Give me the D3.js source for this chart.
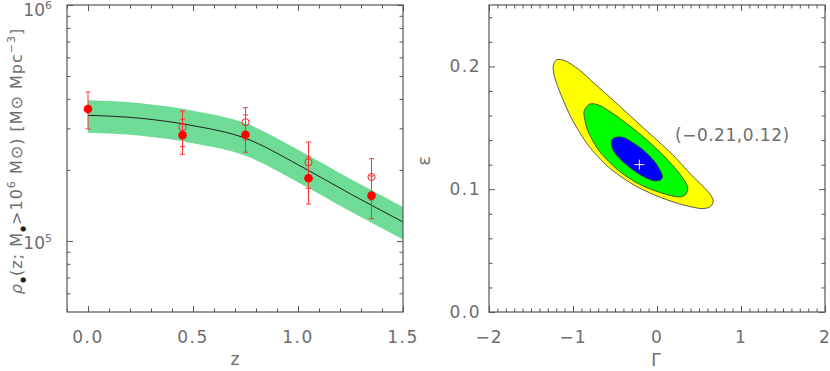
<!DOCTYPE html>
<html>
<head>
<meta charset="utf-8">
<script src="https://cdn.jsdelivr.net/npm/d3@7"></script>
<style>
  body { margin: 0; background: #fff; }
  text { font-family: "DejaVu Sans", sans-serif; fill: #6e6e6e; }
</style>
</head>
<body>
<svg id="chart" width="830" height="371"></svg>
<script>
// ---- left panel: mass density vs redshift ----
const modelZ = [0, 0.25, 0.5, 0.75, 1.0, 1.25, 1.5];
const modelRho = [340900, 331100, 308100, 272400, 210500, 158200, 120400];
const bandUpper = [394400, 383100, 356500, 315200, 243500, 183000, 139300];
const bandLower = [287400, 279200, 259800, 229700, 177500, 133400, 101500];

const filledZ = [0, 0.45, 0.75, 1.05, 1.35];
const filledRho = [362600, 280500, 282100, 184400, 155600];
const filledHi = [427900, 327900, 342000, 227000, 188600];
const filledLo = [298300, 233100, 237700, 143500, 124300];

const openZ = [0.45, 0.75, 1.05, 1.35];
const openRho = [303300, 318500, 215500, 186700];
const openHi = [355600, 367200, 262700, 223200];
const openLo = [250900, 267900, 167200, 149200];

const zTicks = [0, 0.5, 1.0, 1.5];
const rhoTicks = [1e5, 1e6];

// ---- right panel: confidence contours in (Gamma, epsilon) ----
const contourOuter = [[-1.235, 0.2006], [-1.194, 0.2054], [-1.095, 0.2046], [-0.937, 0.1978], [-0.738, 0.1856],
  [-0.539, 0.1735], [-0.301, 0.1586], [-0.063, 0.1438], [0.175, 0.1289], [0.413, 0.1114], [0.592, 0.0992],
  [0.670, 0.0911], [0.631, 0.0856], [0.512, 0.0843], [0.254, 0.0883], [-0.024, 0.0951], [-0.301, 0.1045],
  [-0.580, 0.1181], [-0.818, 0.1357], [-1.015, 0.1573], [-1.155, 0.1789], [-1.223, 0.1925]];
const contourMiddle = [[-0.865, 0.1641], [-0.798, 0.1694], [-0.679, 0.1681], [-0.461, 0.1586], [-0.182, 0.1438],
  [0.056, 0.1289], [0.254, 0.1140], [0.365, 0.1019], [0.333, 0.0951], [0.235, 0.0938], [0.015, 0.0978],
  [-0.223, 0.1045], [-0.461, 0.1154], [-0.679, 0.1303], [-0.818, 0.1465], [-0.865, 0.1586]];
const contourInner = [[-0.539, 0.1397], [-0.480, 0.1424], [-0.381, 0.1416], [-0.182, 0.1329], [-0.024, 0.1221],
  [0.063, 0.1114], [0.036, 0.1073], [-0.063, 0.1073], [-0.223, 0.1127], [-0.401, 0.1221], [-0.520, 0.1316]];
const bestFit = [-0.21, 0.12];
const gammaTicks = [-2, -1, 0, 1, 2];
const epsTicks = [0.0, 0.1, 0.2];

const svg = d3.select('#chart');
const frameColor = '#555';

// inward ticks on all four sides
function drawTicks(g, x, y, xMajor, xMinor, yMajor, yMinor) {
  const [x0, x1] = x.range();
  const [y0, y1] = y.range();
  const sides = [
    [d3.axisBottom(x), `translate(0,${y0})`, xMajor, xMinor],
    [d3.axisTop(x), `translate(0,${y1})`, xMajor, xMinor],
    [d3.axisLeft(y), `translate(${x0},0)`, yMajor, yMinor],
    [d3.axisRight(y), `translate(${x1},0)`, yMajor, yMinor]
  ];
  sides.forEach(([axis, tr, major, minor]) => {
    [[major, 6], [minor, 3.5]].forEach(([vals, len]) => {
      const a = g.append('g')
        .attr('transform', tr)
        .call(axis.tickValues(vals).tickSize(-len).tickFormat(''));
      a.select('.domain').remove();
      a.selectAll('line').attr('stroke', frameColor);
    });
  });
  g.append('rect')
    .attr('x', x0).attr('y', y1)
    .attr('width', x1 - x0).attr('height', y0 - y1)
    .attr('fill', 'none').attr('stroke', frameColor).attr('stroke-width', 1.2);
}

// ---------------- left panel ----------------
const xL = d3.scaleLinear().domain([-0.1, 1.5]).range([67, 403]);
const yL = d3.scaleLog().domain([5e4, 1e6]).range([312, 5]);
const left = svg.append('g');

const band = d3.area()
  .x((d, i) => xL(modelZ[i]))
  .y0((d, i) => yL(bandLower[i]))
  .y1((d, i) => yL(bandUpper[i]))
  .curve(d3.curveMonotoneX);
left.append('path').datum(modelZ).attr('d', band).attr('fill', '#6edb96');

const model = d3.line()
  .x((d, i) => xL(modelZ[i]))
  .y((d, i) => yL(modelRho[i]))
  .curve(d3.curveMonotoneX);
left.append('path').datum(modelZ).attr('d', model)
  .attr('fill', 'none').attr('stroke', '#222').attr('stroke-width', 1);

function errorBars(zs, lo, hi) {
  zs.forEach((z, i) => {
    const cx = xL(z);
    left.append('line').attr('x1', cx).attr('x2', cx)
      .attr('y1', yL(lo[i])).attr('y2', yL(hi[i]))
      .attr('stroke', '#f33').attr('stroke-width', 1);
    [lo[i], hi[i]].forEach(v => {
      left.append('line').attr('x1', cx - 2.5).attr('x2', cx + 2.5)
        .attr('y1', yL(v)).attr('y2', yL(v))
        .attr('stroke', '#f33').attr('stroke-width', 1);
    });
  });
}
errorBars(openZ, openLo, openHi);
errorBars(filledZ, filledLo, filledHi);

left.selectAll('circle.open').data(openZ).join('circle')
  .attr('class', 'open')
  .attr('cx', d => xL(d)).attr('cy', (d, i) => yL(openRho[i]))
  .attr('r', 3.6).attr('fill', 'none').attr('stroke', '#f22').attr('stroke-width', 1);
left.selectAll('circle.filled').data(filledZ).join('circle')
  .attr('class', 'filled')
  .attr('cx', d => xL(d)).attr('cy', (d, i) => yL(filledRho[i]))
  .attr('r', 4.3).attr('fill', '#f00');

const minorRho = [6e4, 7e4, 8e4, 9e4, 2e5, 3e5, 4e5, 5e5, 6e5, 7e5, 8e5, 9e5];
const minorZ = d3.range(-1, 16).map(k => k / 10).filter(v => zTicks.indexOf(v) < 0);
drawTicks(left, xL, yL, zTicks, minorZ, rhoTicks, minorRho);

// tick labels
left.selectAll('text.xt').data(zTicks).join('text')
  .attr('class', 'xt')
  .attr('x', d => xL(d)).attr('y', 343)
  .attr('text-anchor', 'middle').style('font-size', '17px').style('letter-spacing', '1.5px')
  .text(d => d.toFixed(1));
rhoTicks.forEach(v => {
  const t = left.append('text')
    .attr('x', 52).attr('y', v === 1e6 ? 16 : Math.round(yL(v)) + 8)
    .attr('text-anchor', 'end').style('font-size', '17px');
  t.append('tspan').text('10');
  t.append('tspan').attr('dy', -7).style('font-size', '11px').text(Math.round(Math.log10(v)));
});
left.append('text').attr('x', 235).attr('y', 365)
  .attr('text-anchor', 'middle').style('font-size', '17px').text('z');

const yLab = left.append('text')
  .attr('transform', 'translate(22,161) rotate(-90)')
  .attr('text-anchor', 'middle').style('font-size', '16px').style('letter-spacing', '1px');
yLab.append('tspan').style('font-style', 'italic').text('ρ');
yLab.append('tspan').attr('dy', 3).style('font-size', '7px').style('fill', '#222').text('●');
yLab.append('tspan').attr('dy', -3).text('(z;  M');
yLab.append('tspan').attr('dy', 3).style('font-size', '7px').style('fill', '#222').text('●');
yLab.append('tspan').attr('dy', -3).text('>10');
yLab.append('tspan').attr('dy', -7).style('font-size', '11px').text('6');
yLab.append('tspan').attr('dy', 7).text(' M⊙)  [M⊙ Mpc');
yLab.append('tspan').attr('dy', -7).style('font-size', '11px').text('−3');
yLab.append('tspan').attr('dy', 7).text(']');

// ---------------- right panel ----------------
const xR = d3.scaleLinear().domain([-2, 2]).range([489, 825]);
const yR = d3.scaleLinear().domain([0, 0.25]).range([312, 5]);
const right = svg.append('g');

const closed = d3.line().x(d => xR(d[0])).y(d => yR(d[1])).curve(d3.curveCardinalClosed.tension(0.2));
[[contourOuter, '#ffff00'], [contourMiddle, '#00ff00'], [contourInner, '#0000ff']].forEach(([pts, col]) => {
  right.append('path').datum(pts).attr('d', closed)
    .attr('fill', col).attr('stroke', '#333').attr('stroke-width', 0.8);
});

const bx = xR(bestFit[0]), by = yR(bestFit[1]);
right.append('path')
  .attr('d', `M${bx - 5},${by}H${bx + 5}M${bx},${by - 5}V${by + 5}`)
  .attr('stroke', '#fff').attr('stroke-width', 1);

const minorG = d3.range(-20, 21).map(k => k / 10).filter(v => Math.abs(v - Math.round(v)) > 1e-9);
const minorE = d3.range(0, 26, 2).map(k => k / 100).filter(v => Math.abs(v * 10 - Math.round(v * 10)) > 1e-9);
drawTicks(right, xR, yR, gammaTicks, minorG, epsTicks, minorE);

right.selectAll('text.xt').data(gammaTicks).join('text')
  .attr('class', 'xt')
  .attr('x', d => xR(d)).attr('y', 343)
  .attr('text-anchor', 'middle').style('font-size', '17px').style('letter-spacing', '1px')
  .text(d => d < 0 ? '−' + Math.abs(d) : d);
right.selectAll('text.yt').data(epsTicks).join('text')
  .attr('class', 'yt')
  .attr('x', 481).attr('y', d => yR(d) + 6)
  .attr('text-anchor', 'end').style('font-size', '17px').style('letter-spacing', '1.5px')
  .text(d => d.toFixed(1));
right.append('text').attr('x', 656).attr('y', 366)
  .attr('text-anchor', 'middle').style('font-size', '17px').text('Γ');
right.append('text').attr('transform', 'translate(430,161) rotate(-90)')
  .attr('text-anchor', 'middle').style('font-size', '18px').text('ε');
right.append('text').attr('x', 675).attr('y', 141)
  .style('font-size', '17px').style('letter-spacing', '0.5px')
  .text(`(${bestFit[0] < 0 ? '−' : ''}${Math.abs(bestFit[0]).toFixed(2)},${bestFit[1].toFixed(2)})`);
</script>
</body>
</html>
